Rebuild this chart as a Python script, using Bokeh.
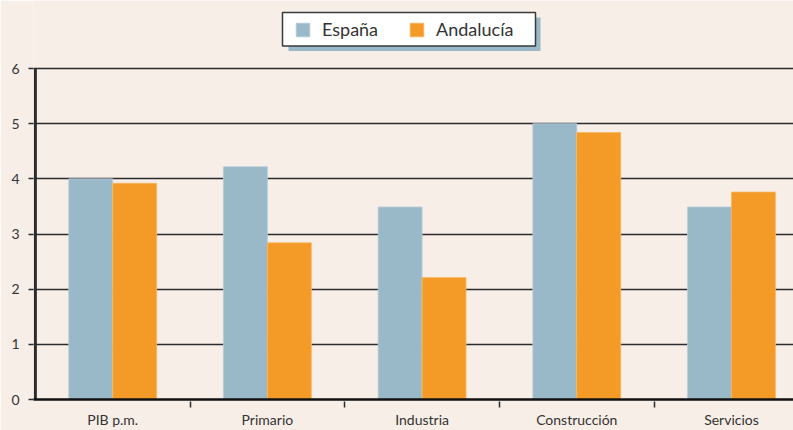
from bokeh.plotting import figure
from bokeh.models import Range1d, FixedTicker, Legend, LegendItem, ColumnDataSource, BoxAnnotation
from bokeh.embed import file_html
from bokeh.resources import INLINE

categories = ["PIB p.m.", "Primario", "Industria", "Construcción", "Servicios"]
espana = [4.0, 4.22, 3.49, 5.0, 3.49]
andalucia = [3.92, 2.84, 2.21, 4.84, 3.76]
y_ticks = [0, 1, 2, 3, 4, 5, 6]
series_names = ["España", "Andalucía"]

BG = "#F7EEE8"
BLUE = "#99B8C8"
ORANGE = "#F49B27"
DARK = "#2b2b2b"
FONT = "Lato"

centers = [i + 0.5 for i in range(len(categories))]
bw = 0.284
src = ColumnDataSource(dict(
    xe=[c - bw / 2 for c in centers],
    xa=[c + bw / 2 for c in centers],
    e=espana,
    a=andalucia,
))

p = figure(width=793, height=430, x_range=Range1d(-0.012, 4.901), y_range=Range1d(0, 7.233),
           output_backend="svg", toolbar_location=None,
           min_border_left=33, min_border_right=0, min_border_top=0, min_border_bottom=0,
           background_fill_color=BG, border_fill_color=BG)
p.outline_line_color = None
p.xgrid.visible = False

p.ygrid.ticker = FixedTicker(ticks=y_ticks[1:])
p.ygrid.grid_line_color = DARK
p.ygrid.grid_line_width = 1.3

re = p.vbar(x="xe", top="e", width=bw, source=src, fill_color=BLUE, line_color="#b8cdd8", line_width=0.8)
ra = p.vbar(x="xa", top="a", width=bw, source=src, fill_color=ORANGE, line_color="#f7b861", line_width=0.8)

# y axis line from 0 to 6
p.segment(x0=[0], y0=[y_ticks[0]], x1=[0], y1=[y_ticks[-1]], line_color=DARK, line_width=3)

yax = p.yaxis[0]
yax.ticker = FixedTicker(ticks=y_ticks)
yax.axis_line_color = None
yax.major_tick_out = 5
yax.major_tick_in = 0
yax.major_tick_line_color = DARK
yax.major_tick_line_width = 1.5
yax.minor_tick_line_color = None
yax.major_label_standoff = 9
yax.major_label_text_font = FONT
yax.major_label_text_font_size = "14px"
yax.major_label_text_color = "#333333"

xax = p.xaxis[0]
xax.ticker = FixedTicker(ticks=centers, minor_ticks=[1, 2, 3, 4])
xax.major_label_overrides = {c: lab for c, lab in zip(centers, categories)}
xax.axis_line_color = "#111111"
xax.axis_line_width = 2.5
xax.major_tick_out = 0
xax.major_tick_in = 0
xax.major_tick_line_color = None
xax.minor_tick_out = 8
xax.minor_tick_in = -2
xax.minor_tick_line_color = DARK
xax.minor_tick_line_width = 1.5
xax.major_label_standoff = 3
xax.major_label_text_font = FONT
xax.major_label_text_font_size = "14px"
xax.major_label_text_color = "#333333"

# legend box: shadow + white framed panel
shadow = BoxAnnotation(left=288, right=540, top=17, bottom=50.5,
                       left_units="canvas", right_units="canvas",
                       top_units="canvas", bottom_units="canvas",
                       fill_color=BLUE, fill_alpha=1, line_color=None)
panel = BoxAnnotation(left=282, right=535, top=12, bottom=45.5,
                      left_units="canvas", right_units="canvas",
                      top_units="canvas", bottom_units="canvas",
                      fill_color="white", fill_alpha=1,
                      line_color="#3a3a3a", line_width=1.5, line_alpha=1)
p.add_layout(shadow)
p.add_layout(panel)

lg = Legend(items=[LegendItem(label=series_names[0], renderers=[re]),
                   LegendItem(label=series_names[1], renderers=[ra])],
            orientation="horizontal", location=(261, 359),
            glyph_width=17, glyph_height=17, label_standoff=11, spacing=30,
            padding=0, margin=0,
            label_text_font=FONT, label_text_font_size="18px",
            label_text_color="#333333",
            background_fill_alpha=0, border_line_color=None)
p.add_layout(lg)

open("out.html", "w").write(file_html(p, INLINE))
